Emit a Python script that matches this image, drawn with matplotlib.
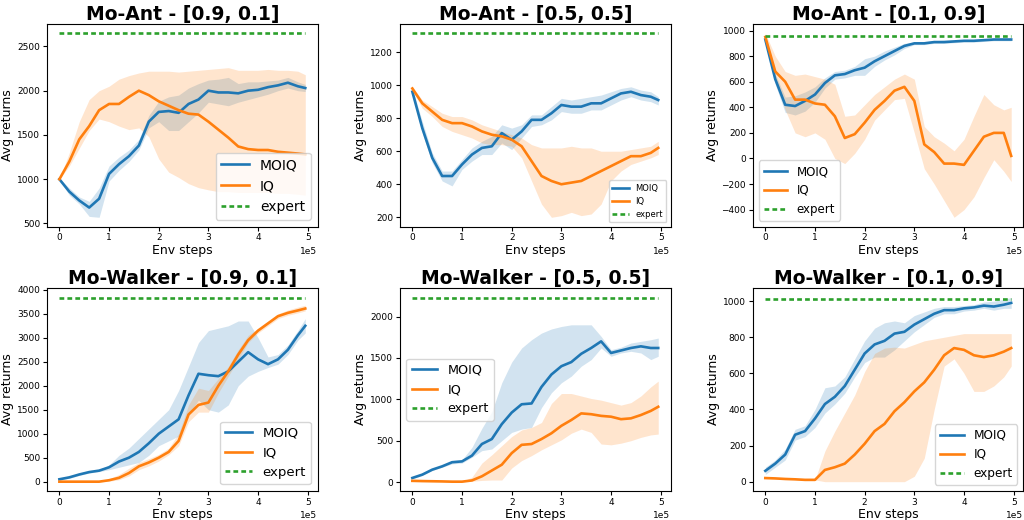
import matplotlib
matplotlib.use('Agg')
import matplotlib.pyplot as plt

# env steps (shared x grid for every curve)
steps = [0, 20000, 40000, 60000, 80000, 100000, 120000, 140000, 160000, 180000,
         200000, 220000, 240000, 260000, 280000, 300000, 320000, 340000, 360000,
         380000, 400000, 420000, 440000, 460000, 480000, 495000]

titles = ['Mo-Ant - [0.9, 0.1]', 'Mo-Ant - [0.5, 0.5]', 'Mo-Ant - [0.1, 0.9]',
          'Mo-Walker - [0.9, 0.1]', 'Mo-Walker - [0.5, 0.5]', 'Mo-Walker - [0.1, 0.9]']
expert = [2650, 1315, 955, 3840, 2230, 1010]

# Mo-Ant [0.9, 0.1]
ant91_moiq = [1000, 860, 760, 680, 780, 1060, 1170, 1260, 1380, 1650, 1760, 1770, 1750,
              1850, 1900, 2000, 1980, 1980, 1970, 2000, 2010, 2040, 2060, 2090, 2050, 2030]
ant91_moiq_lo = [990, 820, 720, 580, 570, 980, 1100, 1200, 1330, 1580, 1650, 1550, 1550,
                 1650, 1750, 1870, 1850, 1830, 1870, 1900, 1930, 1960, 2000, 2030, 2000, 1990]
ant91_moiq_hi = [1010, 900, 800, 750, 900, 1150, 1250, 1330, 1450, 1720, 1880, 1930, 1950,
                 2030, 2080, 2120, 2130, 2150, 2080, 2100, 2100, 2110, 2120, 2150, 2100, 2070]
ant91_iq = [1000, 1200, 1450, 1600, 1780, 1850, 1850, 1930, 2000, 1950, 1880, 1830, 1780,
            1740, 1730, 1650, 1560, 1470, 1370, 1340, 1330, 1330, 1310, 1300, 1290, 1280]
ant91_iq_lo = [1000, 1150, 1350, 1550, 1680, 1650, 1600, 1560, 1580, 1480, 1230, 1080, 1020,
               950, 905, 880, 860, 860, 850, 850, 850, 850, 840, 840, 830, 820]
ant91_iq_hi = [1000, 1300, 1650, 1900, 2000, 2050, 2130, 2170, 2200, 2220, 2220, 2220, 2210,
               2220, 2230, 2240, 2250, 2260, 2230, 2230, 2230, 2240, 2230, 2230, 2220, 2180]

# Mo-Ant [0.5, 0.5]
ant55_moiq = [960, 740, 560, 450, 450, 520, 580, 620, 630, 710, 670, 720, 790,
              790, 830, 880, 870, 870, 890, 890, 920, 950, 960, 940, 930, 910]
ant55_moiq_lo = [940, 710, 530, 420, 390, 490, 540, 580, 580, 650, 610, 680, 750,
                 760, 790, 840, 830, 830, 850, 850, 880, 910, 930, 910, 900, 880]
ant55_moiq_hi = [980, 780, 590, 480, 480, 550, 620, 660, 690, 760, 740, 760, 820,
                 820, 870, 920, 910, 920, 930, 940, 960, 980, 990, 970, 960, 930]
ant55_iq = [980, 890, 840, 790, 770, 770, 750, 720, 700, 690, 670, 630, 540,
            450, 420, 400, 410, 420, 450, 480, 510, 540, 570, 570, 590, 620]
ant55_iq_lo = [970, 860, 810, 750, 720, 700, 680, 650, 640, 640, 630, 560, 420,
               280, 200, 210, 230, 210, 220, 280, 420, 480, 520, 540, 560, 580]
ant55_iq_hi = [990, 910, 870, 830, 810, 810, 790, 760, 740, 720, 700, 680, 640,
               620, 620, 620, 630, 620, 620, 600, 600, 600, 610, 620, 630, 660]

# Mo-Ant [0.1, 0.9]
ant19_moiq = [930, 620, 420, 410, 450, 500, 590, 650, 660, 690, 710, 760, 800,
              840, 880, 900, 900, 910, 910, 915, 920, 920, 925, 930, 930, 930]
ant19_moiq_lo = [910, 580, 360, 340, 370, 440, 550, 620, 630, 650, 650, 720, 770,
                 810, 860, 890, 890, 900, 900, 905, 910, 910, 915, 920, 920, 920]
ant19_moiq_hi = [950, 660, 480, 490, 520, 560, 630, 680, 690, 720, 780, 800, 840,
                 870, 900, 910, 915, 920, 925, 925, 930, 930, 935, 940, 940, 940]
ant19_iq = [950, 680, 600, 460, 460, 430, 420, 330, 160, 190, 280, 380, 450,
            530, 560, 450, 110, 50, -40, -40, -50, 60, 170, 200, 200, 20]
ant19_iq_lo = [950, 620, 380, 200, 170, 200, 150, 0, -40, 40, 150, 300, 380,
               460, 470, 200, -80, -200, -330, -460, -400, -300, -150, -10, -100, -180]
ant19_iq_hi = [980, 800, 680, 650, 660, 640, 620, 580, 330, 340, 420, 500, 560,
               620, 660, 620, 250, 170, 120, 60, 150, 330, 500, 420, 380, 400]

# Mo-Walker [0.9, 0.1]
walk91_moiq = [50, 90, 150, 200, 230, 300, 420, 500, 620, 800, 1000, 1150, 1300,
               1800, 2250, 2220, 2200, 2300, 2500, 2700, 2550, 2450, 2550, 2750, 3050, 3250]
walk91_moiq_lo = [30, 70, 130, 180, 210, 250, 300, 350, 400, 550, 750, 850, 950,
                  1400, 1700, 1500, 1450, 1600, 2000, 2200, 2300, 2380, 2450, 2650, 2950, 3100]
walk91_moiq_hi = [70, 110, 170, 220, 250, 350, 550, 700, 900, 1100, 1300, 1500, 1900,
                  2400, 2900, 3150, 3200, 3250, 3350, 3350, 3000, 2600, 2650, 2850, 3150, 3400]
walk91_iq = [0, 0, 0, 0, 0, 30, 80, 180, 320, 400, 500, 620, 850,
             1400, 1600, 1650, 2000, 2300, 2650, 2950, 3150, 3300, 3450, 3520, 3570, 3610]
walk91_iq_lo = [0, 0, 0, 0, 0, 10, 40, 120, 250, 330, 430, 560, 750,
                1250, 1450, 1450, 1850, 2200, 2550, 2900, 3100, 3250, 3400, 3470, 3520, 3560]
walk91_iq_hi = [0, 0, 0, 0, 0, 60, 150, 280, 400, 480, 570, 700, 1000,
                1600, 1950, 1900, 2150, 2400, 2750, 3050, 3200, 3350, 3500, 3580, 3640, 3680]

# Mo-Walker [0.5, 0.5]
walk55_moiq = [50, 90, 150, 190, 240, 250, 320, 460, 520, 700, 840, 940, 950,
               1150, 1300, 1400, 1450, 1550, 1620, 1700, 1560, 1590, 1620, 1640, 1620, 1620]
walk55_moiq_lo = [40, 80, 140, 180, 220, 230, 300, 380, 400, 500, 600, 640, 660,
                  900, 1080, 1200, 1280, 1400, 1480, 1620, 1520, 1560, 1580, 1560, 1480, 1520]
walk55_moiq_hi = [60, 100, 160, 200, 260, 270, 420, 650, 850, 1200, 1450, 1620, 1720,
                  1800, 1850, 1880, 1900, 1900, 1900, 1760, 1600, 1630, 1680, 1700, 1720, 1740]
walk55_iq = [15, 12, 10, 8, 5, 5, 20, 70, 140, 210, 350, 450, 460,
             520, 590, 680, 750, 830, 820, 800, 790, 760, 770, 810, 860, 910]
walk55_iq_lo = [15, 12, 10, 8, 5, 5, 10, 20, 25, 25, 170, 260, 320,
                390, 450, 510, 590, 640, 600, 460, 450, 470, 500, 540, 570, 580]
walk55_iq_hi = [15, 12, 10, 8, 5, 5, 60, 230, 330, 440, 550, 630, 660,
                720, 950, 1070, 1070, 1040, 1010, 990, 960, 930, 960, 1040, 1150, 1220]

# Mo-Walker [0.1, 0.9]
walk19_moiq = [60, 100, 150, 260, 280, 350, 430, 470, 530, 620, 710, 760, 780,
               820, 830, 870, 900, 930, 950, 950, 960, 965, 975, 970, 980, 990]
walk19_moiq_lo = [40, 80, 120, 230, 250, 300, 380, 430, 490, 580, 660, 690, 690,
                  730, 780, 830, 870, 910, 930, 930, 945, 950, 960, 950, 960, 960]
walk19_moiq_hi = [80, 120, 180, 290, 310, 400, 520, 530, 580, 680, 780, 850, 880,
                  890, 880, 920, 940, 960, 970, 970, 975, 980, 995, 1000, 1010, 1020]
walk19_iq = [20, 18, 15, 13, 10, 10, 65, 80, 100, 150, 210, 280, 320,
             390, 440, 500, 550, 620, 700, 740, 730, 700, 690, 700, 720, 740]
walk19_iq_lo = [20, 18, 15, 13, 10, 10, 0, 0, 0, 0, 0, 0, 0,
                0, 0, 30, 130, 400, 640, 680, 600, 500, 500, 530, 580, 640]
walk19_iq_hi = [20, 18, 15, 13, 10, 10, 170, 280, 380, 480, 610, 710, 740,
                745, 740, 760, 780, 790, 800, 810, 820, 820, 820, 820, 820, 820]

panels = [
    (ant91_moiq, ant91_moiq_lo, ant91_moiq_hi, ant91_iq, ant91_iq_lo, ant91_iq_hi),
    (ant55_moiq, ant55_moiq_lo, ant55_moiq_hi, ant55_iq, ant55_iq_lo, ant55_iq_hi),
    (ant19_moiq, ant19_moiq_lo, ant19_moiq_hi, ant19_iq, ant19_iq_lo, ant19_iq_hi),
    (walk91_moiq, walk91_moiq_lo, walk91_moiq_hi, walk91_iq, walk91_iq_lo, walk91_iq_hi),
    (walk55_moiq, walk55_moiq_lo, walk55_moiq_hi, walk55_iq, walk55_iq_lo, walk55_iq_hi),
    (walk19_moiq, walk19_moiq_lo, walk19_moiq_hi, walk19_iq, walk19_iq_lo, walk19_iq_hi),
]

legend_loc = ['lower right', 'lower right', 'lower left', 'lower right', 'center left', 'lower right']
legend_size = [10, 6, 8.5, 9.5, 9.2, 8.7]

fig, axes = plt.subplots(2, 3, figsize=(10.24, 5.2), dpi=100)
plt.subplots_adjust(left=0.046, right=0.9995, bottom=0.056, top=0.954, wspace=0.305, hspace=0.305)

for i, ax in enumerate(axes.flat):
    moiq, moiq_lo, moiq_hi, iq, iq_lo, iq_hi = panels[i]
    ax.plot(steps, moiq, color='C0', lw=1.9, label='MOIQ')
    ax.fill_between(steps, moiq_lo, moiq_hi, color='C0', alpha=0.2, lw=0)
    ax.plot(steps, iq, color='C1', lw=1.9, label='IQ')
    ax.fill_between(steps, iq_lo, iq_hi, color='C1', alpha=0.2, lw=0)
    ax.plot([steps[0], steps[-1]], [expert[i], expert[i]], color='C2', lw=1.9,
            linestyle=(0, (1.8, 1.2)), label='expert')

    ax.set_title(titles[i], fontsize=13.5, fontweight='bold', pad=3)
    ax.set_xlabel('Env steps', fontsize=9, labelpad=1)
    ax.set_ylabel('Avg returns', fontsize=9, labelpad=2)
    ax.ticklabel_format(axis='x', style='sci', scilimits=(0, 0))
    ax.tick_params(labelsize=6.5, length=3, pad=2)
    ax.xaxis.get_offset_text().set_fontsize(6.5)
    ax.legend(loc=legend_loc[i], fontsize=legend_size[i])

plt.savefig('out.png', dpi=100)
